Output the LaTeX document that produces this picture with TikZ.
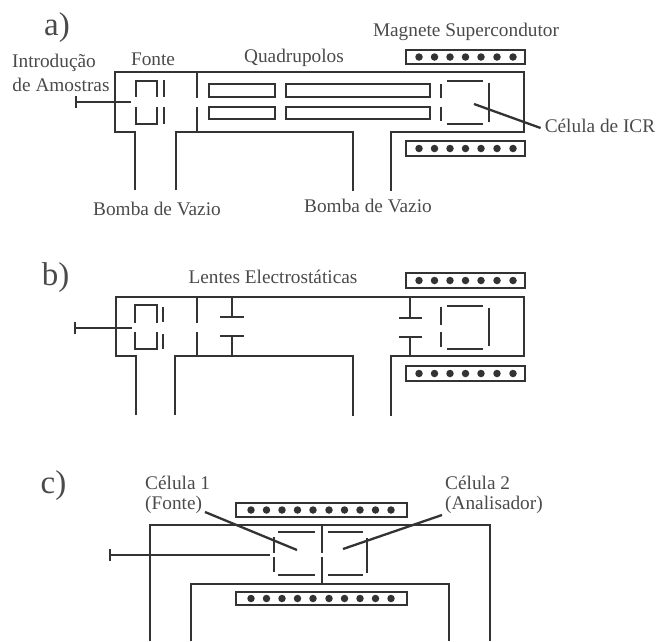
\documentclass[tikz,border=0pt]{standalone}
\usepackage{fontspec}
\setmainfont{Liberation Serif}
\definecolor{ink}{HTML}{333333}
\definecolor{txt}{HTML}{4A4A4A}
\tikzset{
  wall/.style={draw=ink,line width=2.3pt,line cap=butt,line join=miter},
  lab/.style={text=txt,font=\fontsize{19.3}{20}\selectfont,inner sep=0pt,align=left},
  big/.style={text=txt,font=\fontsize{33}{34}\selectfont,inner sep=0pt},
  dotmark/.style={fill=ink,draw=none,circle,minimum size=7.5pt,inner sep=0pt},
}
\newcommand{\magnet}[6]{% x1,y1,x2,y2,dots list,name
  \draw[wall] (#1,#2) rectangle (#3,#4);
  \foreach \dx in {#5} \node[dotmark] (#6\dx) at (\dx,{(#2+#4)/2}) {};
}
\begin{document}
\begin{tikzpicture}[x=1pt,y=-1pt]
\useasboundingbox (0,0) rectangle (657,641);
% ---- a)
\node[big] (la) at (57,28) {a)};
\node[lab] (intro) at (54,63) {Introdução};
\node[lab] (amostras) at (61,85) {de Amostras};
\node[lab] (fonte) at (153,59) {Fonte};
\node[lab] (quad) at (294,58) {Quadrupolos};
\node[lab] (mag) at (466,32) {Magnete Supercondutor};
\node[lab] (pump1) at (157,209) {Bomba de Vazio};
\node[lab] (pump2) at (368,206) {Bomba de Vazio};
\node[lab] (icr) at (600,126) {Célula de ICR};
\draw[wall] (135,190) -- (135,132) -- (115,132) -- (115,72) -- (524,72) -- (524,132) -- (391,132) -- (391,191);
\draw[wall] (176,190) -- (176,132) -- (353,132) -- (353,191);
\draw[wall] (76,96) -- (76,108);
\draw[wall] (76,102) -- (131,102);
\draw[wall] (136,97) -- (136,81) -- (157,81) -- (157,97);
\draw[wall] (136,107) -- (136,124) -- (157,124) -- (157,107);
\draw[wall] (164,80) -- (164,97) (164,107) -- (164,124);
\draw[wall] (197,72) -- (197,98) (197,107) -- (197,132);
\draw[wall] (209,84) rectangle (275,97);
\draw[wall] (209,107) rectangle (275,119);
\draw[wall] (286,84) rectangle (430,97);
\draw[wall] (286,107) rectangle (430,119);
\draw[wall] (441,84) -- (441,98) (441,107) -- (441,121);
\draw[wall] (447,81) -- (483,81) (447,124) -- (483,124);
\draw[wall] (489,83) -- (489,122);
\coordinate (icrin) at (474,104);
\draw[wall] (icrin) -- ([xshift=-4pt,yshift=-2pt]icr.west);
\magnet{406}{50}{525}{64}{419,434.5,450,465.5,481,497,513}{ma}
\magnet{406}{141}{525}{156}{419,434.5,450,465.5,481,497,513}{mb}
% ---- b)
\node[big] (lb) at (55.5,278) {b)};
\node[lab] (lentes) at (273,277) {Lentes Electrostáticas};
\draw[wall] (136,415) -- (136,356) -- (116,356) -- (116,297) -- (524,297) -- (524,356) -- (391,356) -- (391,416);
\draw[wall] (175,415) -- (175,356) -- (353,356) -- (353,416);
\draw[wall] (75,322) -- (75,334);
\draw[wall] (75,328) -- (132,328);
\draw[wall] (135,323) -- (135,305) -- (157,305) -- (157,323);
\draw[wall] (135,332) -- (135,349) -- (157,349) -- (157,332);
\draw[wall] (163,307) -- (163,322) (163,334) -- (163,349);
\draw[wall] (197,297) -- (197,323) (197,332) -- (197,356);
\draw[wall] (232,297) -- (232,317) (220,317) -- (244,317);
\draw[wall] (232,356) -- (232,336) (220,336) -- (244,336);
\draw[wall] (410,297) -- (410,318) (399,318) -- (422,318);
\draw[wall] (410,356) -- (410,337) (399,337) -- (422,337);
\draw[wall] (441,307) -- (441,325) (441,332) -- (441,347);
\draw[wall] (447,306) -- (483,306) (447,349) -- (483,349);
\draw[wall] (489,308) -- (489,346);
\magnet{406}{273}{525}{288}{419,434.5,450,465.5,481,497,513}{mc}
\magnet{406}{366}{525}{381}{419,434.5,450,465.5,481,497,513}{md}
% ---- c)
\node[big] (lc) at (53.5,485.5) {c)};
\node[lab,anchor=west] (c1) at (145,483) {Célula 1};
\node[lab,anchor=west] (c1b) at (145,505) {(Fonte)};
\node[lab,anchor=west] (c2) at (445,483) {Célula 2};
\node[lab,anchor=west] (c2b) at (445,505) {(Analisador)};
\draw[wall] (150,641) -- (150,525) -- (490,525) -- (490,641);
\draw[wall] (191,641) -- (191,584) -- (449,584) -- (449,641);
\draw[wall] (110,549) -- (110,561);
\draw[wall] (110,555) -- (270,555);
\draw[wall] (274,537) -- (274,553) (274,557) -- (274,572);
\draw[wall] (278,532) -- (315,532) (278,575) -- (315,575);
\draw[wall] (322,525) -- (322,553) (322,557) -- (322,584);
\draw[wall] (328,532) -- (363,532) (328,575) -- (363,575);
\draw[wall] (367,538) -- (367,573);
\coordinate (c1in) at (297,550);
\coordinate (c2in) at (343,549);
\coordinate (c1out) at (205,512);
\coordinate (c2out) at (442,515);
\draw[wall] (c1out) -- (c1in);
\draw[wall] (c2out) -- (c2in);
\magnet{236}{503}{407}{517}{251,266.5,282,297.5,313,329,344.5,360,375.5,391}{me}
\magnet{236}{592}{407}{605}{251,266.5,282,297.5,313,329,344.5,360,375.5,391}{mf}
\end{tikzpicture}
\end{document}
